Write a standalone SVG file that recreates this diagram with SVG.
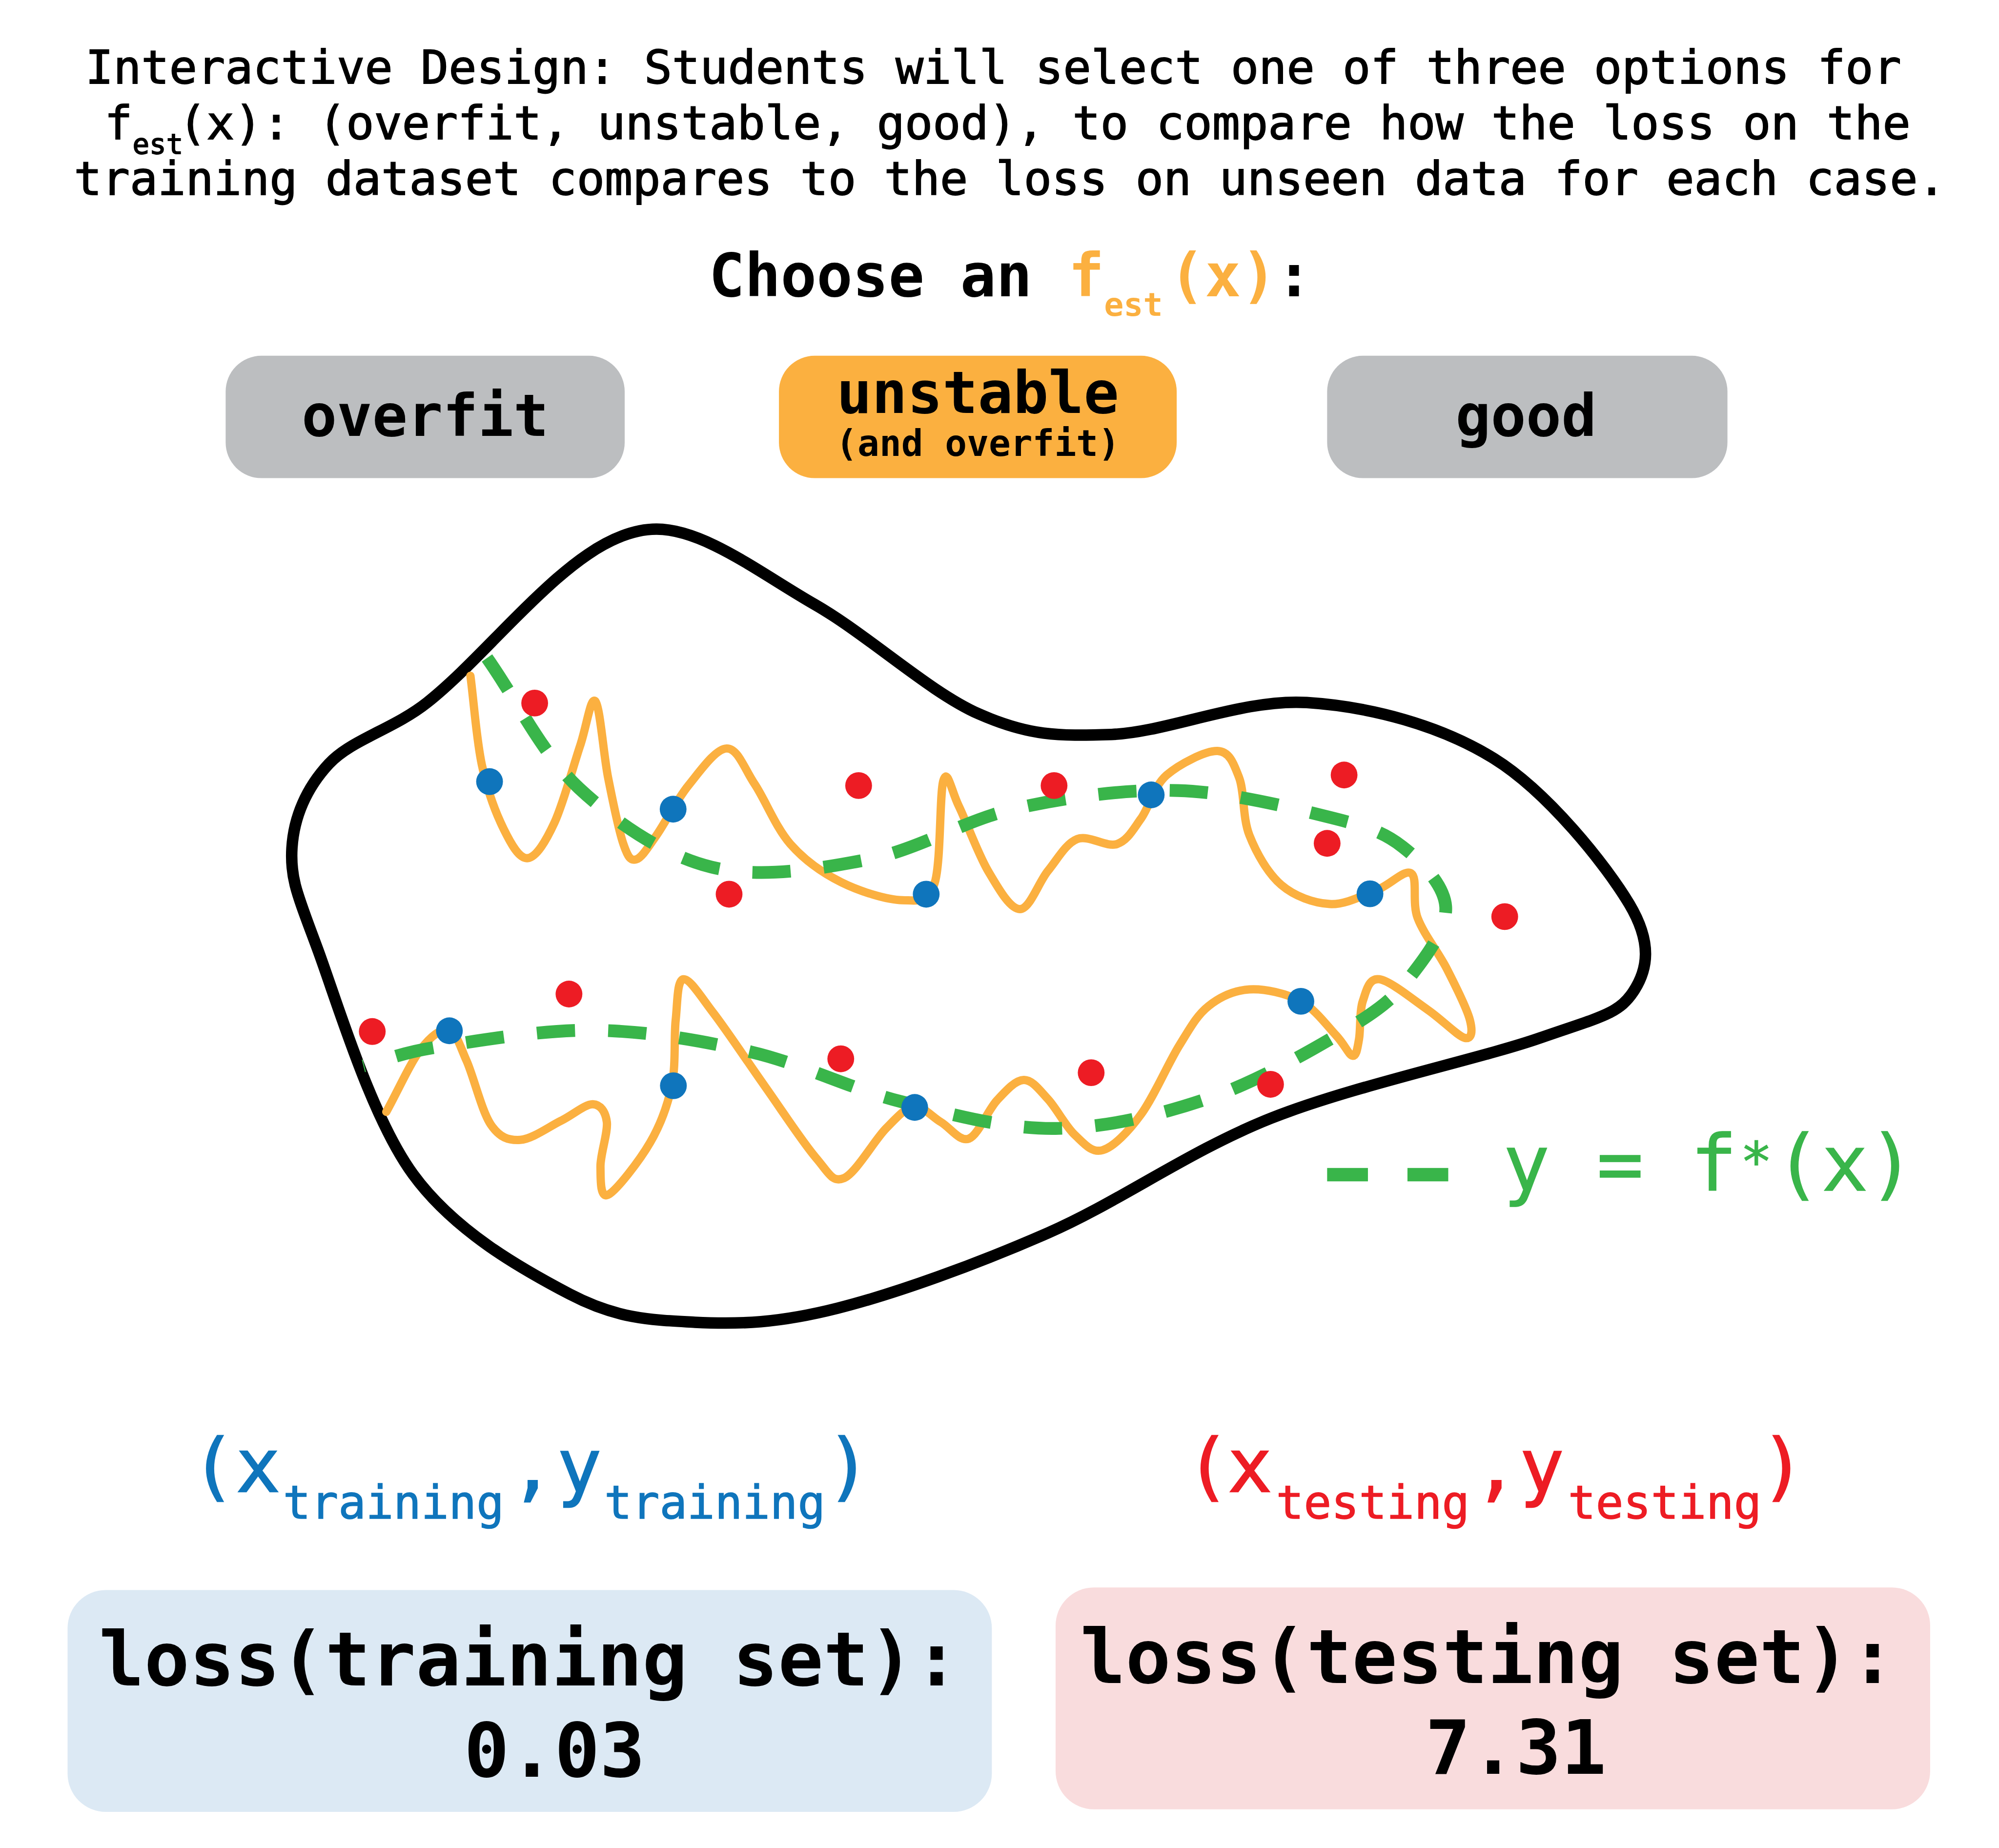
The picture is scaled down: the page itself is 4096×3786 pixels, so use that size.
<svg xmlns="http://www.w3.org/2000/svg" width="4096" height="3786" viewBox="0 0 4096 3786">
<style>
text { font-family: "DejaVu Sans Mono", "Liberation Mono", monospace; }
.title { font-size: 36.4px; fill: #000; stroke: #000; stroke-width: 0.7px; }
.bold { font-weight: bold; }
.btn { font-size: 46px; font-weight: bold; text-anchor: middle; fill: #000; }
.btn-small { font-size: 28.5px; font-weight: bold; text-anchor: middle; fill: #000; }
.loss { font-size: 59px; font-weight: bold; text-anchor: middle; fill: #000; }
.lab { font-size: 58px; stroke-width: 0.9px; }
.sub { font-size: 36px; stroke-width: 0.6px; }
.train { fill: #0F75BC; stroke: #0F75BC; }
.test { fill: #ED1C24; stroke: #ED1C24; }
.orange { fill: #FBB040; }
.legend-text { fill: #39B54A; stroke: #39B54A; stroke-width: 0.5px; }
</style>
<defs>
<circle id="dotT" r="10.5" fill="#0F75BC"/>
<circle id="dotE" r="10.5" fill="#ED1C24"/>
</defs>
<rect width="4096" height="3786" fill="#fff"/>
<g transform="scale(2.61224)">
<g id="title">
<text class="title" x="67" y="65.5">Interactive Design: Students will select one of three options for</text>
<text class="title" x="82" y="109">f<tspan style="font-size:22px" dy="11.5">est</tspan><tspan x="140" dy="-11.5">(x): (overfit, unstable, good), to compare how the loss on the</tspan></text>
<text class="title" x="58" y="152.6">training dataset compares to the loss on unseen data for each case.</text>
</g>
<g id="choose-label">
<text class="bold" font-size="46.8" x="556" y="232.3">Choose an</text>
<text class="bold orange" font-size="46.8" x="838" y="232.3">f</text>
<text class="bold orange" font-size="25.5" x="866" y="247.5">est</text>
<text class="bold orange" font-size="46.8" x="917" y="232.3">(x)</text>
<text class="bold" font-size="46.8" x="1001" y="232.3">:</text>
</g>
<g id="btn-overfit">
<rect x="177" y="279" width="313" height="96" rx="28" fill="#BCBEC0"/>
<text class="btn" x="333.5" y="342">overfit</text>
</g>
<g id="btn-unstable">
<rect x="611" y="279" width="312" height="96" rx="28" fill="#FBB040"/>
<text class="btn" x="767" y="324">unstable</text>
<text class="btn-small" x="767" y="357.5">(and overfit)</text>
</g>
<g id="btn-good">
<rect x="1041" y="279" width="314" height="96" rx="28" fill="#BCBEC0"/>
<text class="btn" x="1197" y="342">good</text>
</g>
<g id="blob">
<path fill="none" stroke="#000" stroke-width="9" d="M515,415 C552.3,415 596.8,449.8 639,474 C681.2,498.2 729.2,543 768,560 C806.8,577 829.2,577.5 872,576 C914.8,574.5 975,547.8 1025,551 C1075,554.2 1129.8,568.7 1172,595 C1214.2,621.3 1259.8,678.5 1278,709 C1296.2,739.5 1292.7,760.5 1281,778 C1269.3,795.5 1255.3,797.5 1208,814 C1160.7,830.5 1061.3,851.5 997,877 C932.7,902.5 878.7,942.2 822,967 C765.3,991.8 703.2,1014.3 657,1026 C610.8,1037.7 580,1038.8 545,1037 C510,1035.2 483.8,1034.3 447,1015 C410.2,995.7 357,966.2 324,921 C291,875.8 264.8,786.7 249,744 C233.2,701.3 227.5,689.2 229,665 C230.5,640.8 240.3,618 258,599 C275.7,580 308.8,571.8 335,551 C361.2,530.2 388,500 415,474 C442,448 477.7,415 515,415 Z"/>
</g>
<g id="connectors">
<path id="curve-fest" fill="none" stroke="#FBB040" stroke-width="6.5" stroke-linecap="round" stroke-linejoin="round" d="M369,530 C372,553.3 373.7,580 378,600 S389,637.8 395,650 S407.3,673.8 414,673 S428.2,659.7 435,645 S449.7,600.8 455,585 S463.3,545.8 467,550 S473.3,591.3 477,610 S485.3,651.3 489,662 S494.7,675.2 499,674 S508.2,664.7 515,655 S530.8,627.3 540,616 S561.3,587.2 570,587 S583.7,602.5 592,615 S608.7,649.2 620,662 S645.3,684.7 660,692 S695.8,705.8 708,706 S727.7,708.7 733,693 S736.8,622.2 740,612 S746.2,620.2 752,632 S767,669.5 775,683 S792.2,713 800,713 S814.5,692.2 822,683 S836,661.5 845,658 S867.7,664.7 876,662 S888.5,651 895,642 S905,616.8 915,608 S945.5,588.7 955,589 S967.8,599 972,610 S974.5,641 980,655 S994.5,685 1005,694 S1030.5,708.3 1043,709 S1069.3,702 1080,698 S1101.7,681.3 1107,685 S1107.3,707.5 1112,720 S1128.2,746.7 1135,760 S1150.7,791 1153,800 S1154.5,815.3 1149,814 S1131.2,799.7 1120,792 S1090.5,769.2 1082,768 S1071.7,777.2 1069,785 S1067.3,807.8 1066,815 S1064,828.5 1061,828 S1054.8,819.2 1048,812 S1031.3,791 1020,785 S992,775.3 980,776 S957.2,781.7 948,789 S933.8,805.8 925,820 S905,860.3 895,874 S873.7,899.3 865,902 S850.2,896.7 843,890 S828.7,869.2 822,862 S809.7,846.8 803,847 S789.2,855.3 782,863 S767.3,890.2 760,893 S745.2,884.2 738,880 S724.2,867.2 717,868 S704.2,875.7 695,885 S671.2,920.2 662,924 S650.3,920 640,908 S613.3,870.8 600,852 S570.7,809 560,795 S541,767.2 536,768 S531.5,786.2 530,800 S530.3,835 527,851 S518.3,881.7 510,896 S483.5,933.8 477,937 S471.2,924.5 471,915 S477,888.2 476,880 S471,866.2 465,866 S449.5,874.3 440,879 S417.2,893.5 408,894 S392,892.3 385,882 S371.5,844.3 366,832 S358,809.5 352,808 S338.2,812.3 330,823 S312,855.7 303,872"/>
<path id="curve-fstar" fill="none" stroke="#39B54A" stroke-width="10" stroke-dasharray="30 26" d="M382,516 C406,550 424.7,590.7 454,618 C483.3,645.3 520.2,670.7 558,680 C595.8,689.3 641.2,681.7 681,674 C720.8,666.3 756.5,643 797,634 C837.5,625 883,618.8 924,620 C965,621.2 1013.7,633.7 1043,641 C1072.3,648.3 1084.8,652.3 1100,664 C1115.2,675.7 1132.8,694.2 1134,711 C1135.2,727.8 1119.3,749.3 1107,765 C1094.7,780.7 1086.3,789 1060,805 C1033.7,821 987.7,847.7 949,861 C910.3,874.3 868.3,884.5 828,885 C787.7,885.5 746.8,874 707,864 C667.2,854 629,834.3 589,825 C549,815.7 507.8,808.7 467,808 C426.2,807.3 374.3,816.3 344,821 C313.7,825.7 304.7,831 285,836"/>
</g>
<g id="points-testing">
<use href="#dotE" x="419.4" y="551.4"/>
<use href="#dotE" x="673.5" y="616.1"/>
<use href="#dotE" x="571.9" y="701.3"/>
<use href="#dotE" x="826.8" y="616.1"/>
<use href="#dotE" x="1054.3" y="607.8"/>
<use href="#dotE" x="1041" y="661.4"/>
<use href="#dotE" x="1180.3" y="718.9"/>
<use href="#dotE" x="292" y="809"/>
<use href="#dotE" x="446.3" y="779.6"/>
<use href="#dotE" x="659.5" y="830.4"/>
<use href="#dotE" x="855.9" y="841.3"/>
<use href="#dotE" x="996.6" y="850.4"/>
</g>
<g id="points-training">
<use href="#dotT" x="384" y="613"/>
<use href="#dotT" x="528" y="634.6"/>
<use href="#dotT" x="726.5" y="701.3"/>
<use href="#dotT" x="903" y="623.4"/>
<use href="#dotT" x="1074.6" y="701"/>
<use href="#dotT" x="1020.4" y="785.3"/>
<use href="#dotT" x="717.5" y="868.5"/>
<use href="#dotT" x="528.2" y="851.5"/>
<use href="#dotT" x="352.5" y="808.4"/>
</g>
<g id="legend">
<rect x="1041" y="916" width="32" height="10.5" fill="#39B54A"/>
<rect x="1104" y="916" width="32" height="10.5" fill="#39B54A"/>
<text class="legend-text" font-size="61" x="1179" y="933.5" xml:space="preserve">y = f</text>
<text class="legend-text" font-size="42" x="1365" y="926">*</text>
<text class="legend-text" font-size="61" x="1392" y="933.5">(x)</text>
</g>
<g id="label-training">
<text class="lab train" x="150" y="1170">(</text>
<text class="lab train" x="185" y="1170">x</text>
<text class="sub train" x="222" y="1191">training</text>
<text class="lab train" x="400" y="1170">,</text>
<text class="lab train" x="437" y="1170">y</text>
<text class="sub train" x="474" y="1191">training</text>
<text class="lab train" x="648" y="1170">)</text>
</g>
<g id="label-testing">
<text class="lab test" x="930" y="1170">(</text>
<text class="lab test" x="963" y="1170">x</text>
<text class="sub test" x="1001" y="1191">testing</text>
<text class="lab test" x="1156" y="1170">,</text>
<text class="lab test" x="1192" y="1170">y</text>
<text class="sub test" x="1230" y="1191">testing</text>
<text class="lab test" x="1381" y="1170">)</text>
</g>
<g id="loss-training">
<rect x="53" y="1247" width="725" height="174" rx="30" fill="#DCE9F4"/>
<text class="loss" x="415" y="1322">loss(training set):</text>
<text class="loss" x="435" y="1393.5">0.03</text>
</g>
<g id="loss-testing">
<rect x="828" y="1245" width="686" height="174" rx="30" fill="#F9DCDD"/>
<text class="loss" x="1167" y="1320">loss(testing set):</text>
<text class="loss" x="1189" y="1391">7.31</text>
</g>
</g>
</svg>
